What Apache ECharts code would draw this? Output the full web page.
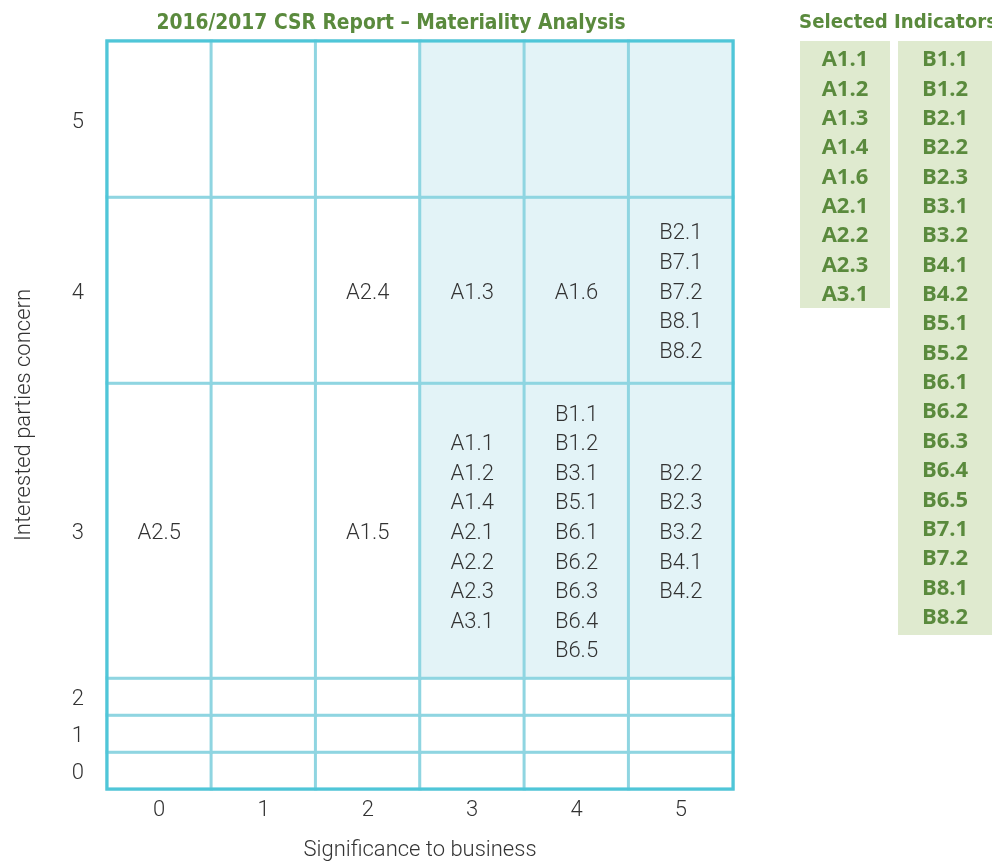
<!DOCTYPE html>
<html>
<head>
<meta charset="utf-8">
<script src="https://cdn.jsdelivr.net/npm/echarts@6/dist/echarts.min.js"></script>
<style>
html,body{margin:0;padding:0;background:#fff;}
#chart{width:992px;height:862px;}
</style>
</head>
<body>
<div id="chart"></div>
<script>
// ---- data ----
const titleText = '2016/2017 CSR Report – Materiality Analysis';
const legendTitle = 'Selected Indicators';
const xName = 'Significance to business';
const yName = 'Interested parties concern';
const xCategories = ['0', '1', '2', '3', '4', '5'];
const yCategories = ['0', '1', '2', '3', '4', '5'];
// indicators per cell: row (concern) -> column (significance) -> list
const row5Items = [[], [], [], [], [], []];
const row4Items = [[], [], ['A2.4'], ['A1.3'], ['A1.6'], ['B2.1', 'B7.1', 'B7.2', 'B8.1', 'B8.2']];
const row3Items = [['A2.5'], [], ['A1.5'],
  ['A1.1', 'A1.2', 'A1.4', 'A2.1', 'A2.2', 'A2.3', 'A3.1'],
  ['B1.1', 'B1.2', 'B3.1', 'B5.1', 'B6.1', 'B6.2', 'B6.3', 'B6.4', 'B6.5'],
  ['B2.2', 'B2.3', 'B3.2', 'B4.1', 'B4.2']];
const row2Items = [[], [], [], [], [], []];
const row1Items = [[], [], [], [], [], []];
const row0Items = [[], [], [], [], [], []];
const indicatorsA = ['A1.1', 'A1.2', 'A1.3', 'A1.4', 'A1.6', 'A2.1', 'A2.2', 'A2.3', 'A3.1'];
const indicatorsB = ['B1.1', 'B1.2', 'B2.1', 'B2.2', 'B2.3', 'B3.1', 'B3.2', 'B4.1', 'B4.2', 'B5.1', 'B5.2',
  'B6.1', 'B6.2', 'B6.3', 'B6.4', 'B6.5', 'B7.1', 'B7.2', 'B8.1', 'B8.2'];
const materialThreshold = 3; // cells with both scores >= 3 are shaded

// ---- layout / styles ----
const rowsItems = [row0Items, row1Items, row2Items, row3Items, row4Items, row5Items];
const gridLeft = 107, gridRight = 733, gridTop = 41, gridBottom = 789;
// top edge & height for each row (index = concern score)
const rowLayout = [
  {top: 752, height: 37},
  {top: 715, height: 37},
  {top: 678, height: 37},
  {top: 383, height: 295},
  {top: 197, height: 186},
  {top: 41, height: 156}
];
const lightFont = 'Roboto';
const titleFont = 'DejaVu Sans Condensed';
const green = '#5a8a3d';
const darkText = '#333333';
const lightSize = 22;

const grids = [], xAxes = [], yAxes = [], series = [];
rowLayout.forEach((rl, r) => {
  grids.push({left: gridLeft, width: gridRight - gridLeft, top: rl.top, height: rl.height,
    containLabel: false, outerBoundsMode: 'none'});
  const isBottom = r === 0;
  xAxes.push({
    type: 'category', gridIndex: r, data: xCategories,
    axisLine: {show: false}, axisTick: {show: false}, splitLine: {show: false},
    axisLabel: {show: isBottom, fontFamily: lightFont, fontWeight: 300, fontSize: lightSize, color: darkText, margin: 10},
    name: isBottom ? xName : '', nameLocation: 'middle', nameGap: 50,
    nameTextStyle: {fontFamily: lightFont, fontWeight: 300, fontSize: lightSize, color: darkText}
  });
  yAxes.push({
    type: 'category', gridIndex: r, data: [yCategories[r]],
    axisLine: {show: false}, axisTick: {show: false}, splitLine: {show: false},
    axisLabel: {
      formatter: v => '{t|' + v + '}',
      margin: 23,
      rich: {t: {fontFamily: lightFont, fontWeight: 300, fontSize: lightSize, color: darkText, padding: [6, 0, 0, 0]}}
    }
  });
  series.push({
    type: 'heatmap', xAxisIndex: r, yAxisIndex: r,
    data: xCategories.map((c, ci) => [ci, 0, (ci >= materialThreshold && r >= materialThreshold) ? 1 : 0]),
    itemStyle: {borderColor: '#8fd5e1', borderWidth: 3},
    label: {
      show: true,
      formatter: p => rowsItems[r][p.value[0]].join('\n'),
      fontFamily: lightFont, fontWeight: 300, fontSize: lightSize, lineHeight: 29.6, color: darkText,
      offset: [0, 3]
    },
    emphasis: {disabled: true}
  });
});
// full-height helper grid carrying the y-axis name
const fi = rowLayout.length;
grids.push({left: gridLeft, width: gridRight - gridLeft, top: gridTop, height: gridBottom - gridTop,
  outerBoundsMode: 'none'});
xAxes.push({type: 'value', gridIndex: fi, show: false});
yAxes.push({
  type: 'value', gridIndex: fi, axisLine: {show: false}, axisTick: {show: false},
  axisLabel: {show: false}, splitLine: {show: false},
  name: yName, nameLocation: 'middle', nameGap: 72,
  nameTextStyle: {fontFamily: lightFont, fontWeight: 300, fontSize: lightSize, color: darkText}
});

// legend boxes
const lineH = 29.35;
function listGraphic(items, x, w, h) {
  const children = [{type: 'rect', shape: {x: x, y: 41, width: w, height: h}, style: {fill: '#dfeacf'}}];
  items.forEach((t, i) => children.push({
    type: 'text', x: x + w / 2, y: 60 + i * lineH,
    style: {text: t, fill: green, font: 'bold 22px "Open Sans"', textAlign: 'center', textVerticalAlign: 'middle'}
  }));
  return {type: 'group', children: children};
}

const option = {
  backgroundColor: '#ffffff',
  animation: false,
  title: [
    {text: titleText, left: 386, top: 8, textAlign: 'center',
      textStyle: {fontFamily: titleFont, fontWeight: 'bold', fontSize: 20.8, color: green}},
    {text: legendTitle, left: 893, top: 8, textAlign: 'center',
      textStyle: {fontFamily: titleFont, fontWeight: 'bold', fontSize: 20.2, color: green}}
  ],
  visualMap: {
    type: 'piecewise', show: false, dimension: 2,
    pieces: [{value: 0, color: '#ffffff'}, {value: 1, color: '#e3f3f7'}]
  },
  grid: grids, xAxis: xAxes, yAxis: yAxes, series: series,
  graphic: [
    listGraphic(indicatorsA, 800, 90, 267),
    listGraphic(indicatorsB, 898, 94, 594),
    {type: 'rect', z: 100, shape: {x: gridLeft, y: gridTop, width: gridRight - gridLeft, height: gridBottom - gridTop},
      style: {fill: 'none', stroke: '#4fc6d8', lineWidth: 3}}
  ]
};
const chart = echarts.init(document.getElementById('chart'));
chart.setOption(option);
</script>
</body>
</html>
